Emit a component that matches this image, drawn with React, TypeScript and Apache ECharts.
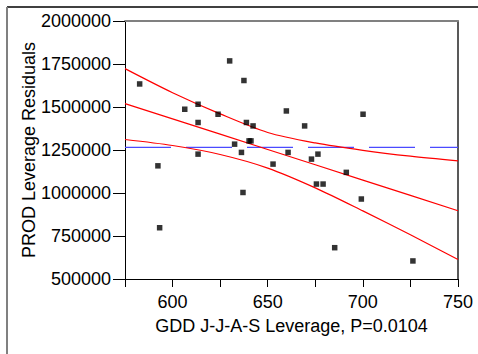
import React, { useEffect, useRef } from "react";
import * as echarts from "echarts";

// Scatter points: [GDD J-J-A-S leverage, PROD leverage residual]
const pointsX = [582.7, 592.3, 593.2, 606.4, 613.4, 613.4, 623.9, 613.4, 630, 637.5, 632.6, 636.2, 638.8, 642.3, 640.2, 641.2, 659.8, 669.4, 660.7, 652.8, 673, 676.4, 691.3, 675.6, 679.1, 700.1, 699.2, 726.3, 685.2, 637];
const pointsY = [1634000, 1158000, 798000, 1487000, 1516000, 1410000, 1458000, 1226000, 1768000, 1654000, 1284000, 1236000, 1410000, 1390000, 1303000, 1303000, 1477000, 1390000, 1236000, 1168000, 1197000, 1226000, 1120000, 1052000, 1052000, 1458000, 965000, 605000, 682000, 1003000];

// Fit line and confidence curves
const curveX = [575, 600, 625, 650, 675, 700, 725, 750];
const fitY = [1520000, 1431000, 1342000, 1253000, 1164000, 1075000, 986000, 897000];
const upperY = [1723000, 1583000, 1460000, 1352000, 1291000, 1248000, 1214000, 1187000];
const lowerY = [1311000, 1276000, 1224000, 1145000, 1030000, 896000, 757000, 613000];

// Mean (horizontal) line
const meanX = [575, 750];
const meanY = 1265000;

const xTickLabels = ["600", "650", "700", "750"];

const FONT = "'Liberation Sans', Arial, Helvetica, sans-serif";

export default function App() {
  const ref = useRef<HTMLDivElement>(null);
  useEffect(() => {
    if (!ref.current) return;
    const chart = echarts.init(ref.current, null, { renderer: "svg" });
    const zip = (xs: number[], ys: number[]) => xs.map((x, i) => [x, ys[i]]);
    chart.setOption({
      animation: false,
      backgroundColor: "#ffffff",
      textStyle: { fontFamily: FONT },
      grid: { left: 125, top: 21, right: 20, bottom: 75, containLabel: false },
      graphic: [
        { type: "line", shape: { x1: 7, y1: 7, x2: 478, y2: 7 }, style: { stroke: "#000", lineWidth: 1.5 } },
        { type: "line", shape: { x1: 7, y1: 7, x2: 7, y2: 354 }, style: { stroke: "#808080", lineWidth: 2 } },
      ],
      xAxis: [
        {
          type: "value",
          min: 575,
          max: 750,
          interval: 25,
          name: "GDD J-J-A-S Leverage, P=0.0104",
          nameLocation: "middle",
          nameGap: 38,
          nameMoveOverlap: false,
          nameTextStyle: { fontSize: 18, color: "#000", fontFamily: FONT },
          axisLine: { show: true, onZero: false, lineStyle: { color: "#000", width: 1 } },
          axisTick: { show: true, length: 8, lineStyle: { color: "#000" } },
          axisLabel: {
            fontSize: 18,
            color: "#000",
            margin: 14,
            fontFamily: FONT,
            formatter: (v: number) => (xTickLabels.includes(String(v)) ? String(v) : ""),
          },
          splitLine: { show: false },
        },
        {
          type: "value",
          position: "top",
          min: 575,
          max: 750,
          axisLine: { show: true, onZero: false, lineStyle: { color: "#808080", width: 2 } },
          axisTick: { show: false },
          axisLabel: { show: false },
          splitLine: { show: false },
        },
      ],
      yAxis: [
        {
          type: "value",
          min: 500000,
          max: 2000000,
          interval: 250000,
          name: "PROD Leverage Residuals",
          nameLocation: "middle",
          nameGap: 87,
          nameMoveOverlap: false,
          nameTextStyle: { fontSize: 18, color: "#000", fontFamily: FONT },
          axisLine: { show: true, onZero: false, lineStyle: { color: "#000", width: 1 } },
          axisTick: { show: true, length: 12, lineStyle: { color: "#000" } },
          axisLabel: {
            fontSize: 18,
            color: "#000",
            margin: 14,
            fontFamily: FONT,
            formatter: (v: number) => String(v),
          },
          splitLine: { show: false },
        },
        {
          type: "value",
          position: "right",
          min: 500000,
          max: 2000000,
          axisLine: { show: true, onZero: false, lineStyle: { color: "#222", width: 1.5 } },
          axisTick: { show: false },
          axisLabel: { show: false },
          splitLine: { show: false },
        },
      ],
      series: [
        {
          type: "line",
          data: meanX.map((x) => [x, meanY]),
          showSymbol: false,
          lineStyle: { color: "#4a4aff", width: 1.2, type: [46, 15] },
          z: 2,
        },
        {
          type: "line",
          data: zip(curveX, fitY),
          showSymbol: false,
          lineStyle: { color: "#ff0000", width: 1.2 },
          z: 3,
        },
        {
          type: "line",
          data: zip(curveX, upperY),
          smooth: 0.3,
          showSymbol: false,
          lineStyle: { color: "#ff0000", width: 1.2 },
          z: 3,
        },
        {
          type: "line",
          data: zip(curveX, lowerY),
          smooth: 0.3,
          showSymbol: false,
          lineStyle: { color: "#ff0000", width: 1.2 },
          z: 3,
        },
        {
          type: "scatter",
          data: zip(pointsX, pointsY),
          symbol: "rect",
          symbolSize: 5.5,
          itemStyle: { color: "#000" },
          z: 4,
        },
      ],
    });
    return () => chart.dispose();
  }, []);
  return (
    <div
      ref={ref}
      style={{ position: "fixed", left: 0, top: 0, width: 478, height: 354 }}
    />
  );
}
